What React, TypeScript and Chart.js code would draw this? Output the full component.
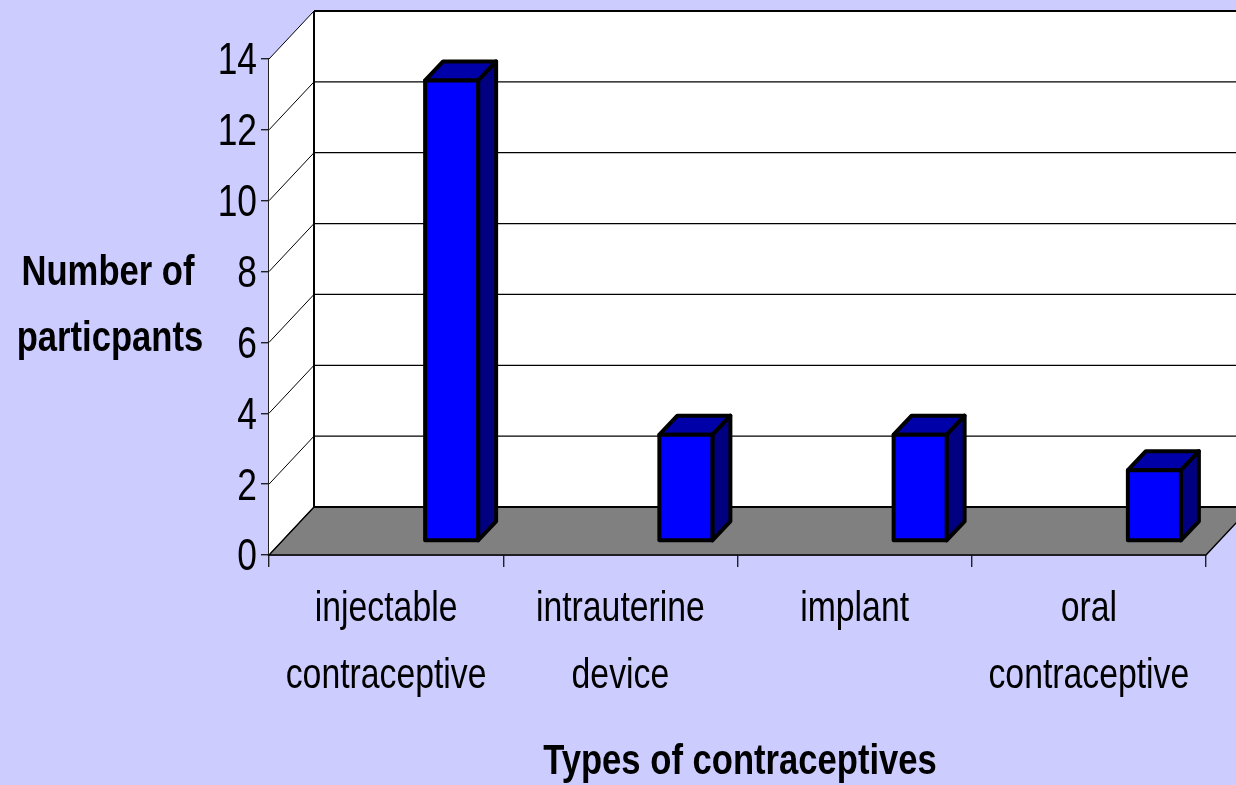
import React, { useEffect, useRef } from "react";
import { Chart, registerables } from "chart.js";

Chart.register(...registerables);

const categories = [
  ["injectable", "contraceptive"],
  ["intrauterine", "device"],
  ["implant"],
  ["oral", "contraceptive"],
];
const participants = [13, 3, 3, 2];
const yTitleLines = ["Number of", "particpants"];
const xTitle = "Types of contraceptives";

const FONT = "'Liberation Sans', Arial, sans-serif";
const WALL_DX = 45;
const WALL_DY = 48;
const BAR_DX = 65.5;
const BAR_DY = 14;
const BAR_DEPTH_X = 18;
const BAR_DEPTH_Y = 19;
const SQUEEZE_REGULAR = 0.785;
const SQUEEZE_BOLD = 0.805;
const Y_TICK_SHIFT = 3;

// The reference's text is a horizontally condensed Arial: squeeze every label drawn on the canvas.
function condenseText(ctx: any) {
  const fillText = ctx.fillText.bind(ctx);
  ctx.fillText = (text: string, x: number, y: number) => {
    ctx.save();
    ctx.translate(x, ctx.textAlign === "right" ? y + Y_TICK_SHIFT : y);
    ctx.scale(String(ctx.font).includes("bold") ? SQUEEZE_BOLD : SQUEEZE_REGULAR, 1);
    fillText(text, 0, 0);
    ctx.restore();
  };
}

const scene3d = {
  id: "scene3d",
  beforeDatasetsDraw(chart: any) {
    const { ctx, scales } = chart;
    const xs = scales.x;
    const ys = scales.y;
    const l = xs.left;
    const r = xs.right;
    const b = ys.getPixelForValue(0);
    const t = ys.getPixelForValue(14);

    ctx.save();
    // back wall
    ctx.fillStyle = "#FFFFFF";
    ctx.fillRect(l + WALL_DX, t - WALL_DY, r - l, b - t);
    // side wall
    ctx.beginPath();
    ctx.moveTo(l, b);
    ctx.lineTo(l, t);
    ctx.lineTo(l + WALL_DX, t - WALL_DY);
    ctx.lineTo(l + WALL_DX, b - WALL_DY);
    ctx.closePath();
    ctx.fill();
    // floor
    ctx.fillStyle = "#808080";
    ctx.beginPath();
    ctx.moveTo(l, b);
    ctx.lineTo(r, b);
    ctx.lineTo(r + WALL_DX, b - WALL_DY);
    ctx.lineTo(l + WALL_DX, b - WALL_DY);
    ctx.closePath();
    ctx.fill();

    // grid lines
    ctx.strokeStyle = "#000000";
    ys.ticks.forEach((tick: any) => {
      const y = ys.getPixelForValue(tick.value);
      ctx.lineWidth = 1;
      ctx.beginPath();
      ctx.moveTo(l, y);
      ctx.lineTo(l + WALL_DX, y - WALL_DY);
      ctx.stroke();
      ctx.lineWidth = tick.value === 0 || tick.value === 14 ? 2 : 1.2;
      ctx.beginPath();
      ctx.moveTo(l + WALL_DX, y - WALL_DY);
      ctx.lineTo(r + WALL_DX, y - WALL_DY);
      ctx.stroke();
    });
    // back corner
    ctx.lineWidth = 2;
    ctx.beginPath();
    ctx.moveTo(l + WALL_DX, t - WALL_DY);
    ctx.lineTo(l + WALL_DX, b - WALL_DY);
    ctx.stroke();
    // floor front edges
    ctx.lineWidth = 1.4;
    ctx.beginPath();
    ctx.moveTo(l + WALL_DX, b - WALL_DY);
    ctx.lineTo(l, b);
    ctx.lineTo(r, b);
    ctx.lineTo(r + WALL_DX, b - WALL_DY);
    ctx.stroke();
    ctx.restore();

    // shift the bars onto the middle of the floor
    ctx.save();
    ctx.translate(BAR_DX, -BAR_DY);

    // side and top faces
    const meta = chart.getDatasetMeta(0);
    meta.data.forEach((bar: any) => {
      const x1 = bar.x - bar.width / 2;
      const x2 = bar.x + bar.width / 2;
      ctx.lineWidth = 4;
      ctx.lineJoin = "round";
      ctx.strokeStyle = "#000000";
      ctx.fillStyle = "#000080";
      ctx.beginPath();
      ctx.moveTo(x2, bar.y);
      ctx.lineTo(x2 + BAR_DEPTH_X, bar.y - BAR_DEPTH_Y);
      ctx.lineTo(x2 + BAR_DEPTH_X, bar.base - BAR_DEPTH_Y);
      ctx.lineTo(x2, bar.base);
      ctx.closePath();
      ctx.fill();
      ctx.stroke();
      ctx.fillStyle = "#0000A8";
      ctx.beginPath();
      ctx.moveTo(x1, bar.y);
      ctx.lineTo(x1 + BAR_DEPTH_X, bar.y - BAR_DEPTH_Y);
      ctx.lineTo(x2 + BAR_DEPTH_X, bar.y - BAR_DEPTH_Y);
      ctx.lineTo(x2, bar.y);
      ctx.closePath();
      ctx.fill();
      ctx.stroke();
    });
  },
  afterDatasetsDraw(chart: any) {
    const { ctx } = chart;
    // outline of the front faces, centred on the edges of each bar
    chart.getDatasetMeta(0).data.forEach((bar: any) => {
      ctx.lineWidth = 4;
      ctx.lineJoin = "round";
      ctx.strokeStyle = "#000000";
      ctx.strokeRect(bar.x - bar.width / 2, bar.y, bar.width, bar.base - bar.y);
    });
    ctx.restore();
    // axis titles
    ctx.save();
    ctx.fillStyle = "#000000";
    ctx.font = `bold 43px ${FONT}`;
    ctx.textAlign = "center";
    ctx.textBaseline = "middle";
    ctx.fillText(yTitleLines[0], 108, 273);
    ctx.fillText(yTitleLines[1], 110, 339);
    ctx.fillText(xTitle, 740, 762);
    ctx.restore();
  },
};

export default function App() {
  const ref = useRef<HTMLCanvasElement>(null);
  useEffect(() => {
    document.body.style.margin = "0";
    document.body.style.background = "#CCCCFF";
    const canvas = ref.current as HTMLCanvasElement;
    condenseText(canvas.getContext("2d"));
    const chart = new Chart(canvas, {
      type: "bar",
      data: {
        labels: categories as any,
        datasets: [
          {
            data: participants,
            backgroundColor: "#0000FF",
            borderWidth: 0,
            barThickness: 53,
            clip: false as any,
          },
        ],
      },
      plugins: [scene3d],
      options: {
        responsive: false,
        animation: false,
        layout: { padding: { top: 59, right: 30, left: 0, bottom: 0 } },
        plugins: { legend: { display: false }, title: { display: false }, tooltip: { enabled: false } },
        scales: {
          x: {
            afterFit(s: any) {
              s.height = 230;
            },
            grid: { drawOnChartArea: false, drawTicks: true, tickLength: 12, color: "#222222", lineWidth: 1.4 },
            border: { color: "#222222", width: 1.4 },
            ticks: {
              autoSkip: false,
              maxRotation: 0,
              minRotation: 0,
              padding: 9,
              color: "#000000",
              font: { family: FONT, size: 43, lineHeight: 1.55 },
            },
          },
          y: {
            min: 0,
            max: 14,
            afterFit(s: any) {
              s.width = 269;
            },
            grid: { drawOnChartArea: false, drawTicks: true, tickLength: 8, color: "#222222", lineWidth: 1.4 },
            border: { color: "#222222", width: 2 },
            ticks: {
              stepSize: 2,
              padding: 4,
              color: "#000000",
              font: { family: FONT, size: 45 },
            },
          },
        },
      },
    });
    return () => chart.destroy();
  }, []);
  return <canvas ref={ref} width={1236} height={785} style={{ display: "block" }} />;
}
